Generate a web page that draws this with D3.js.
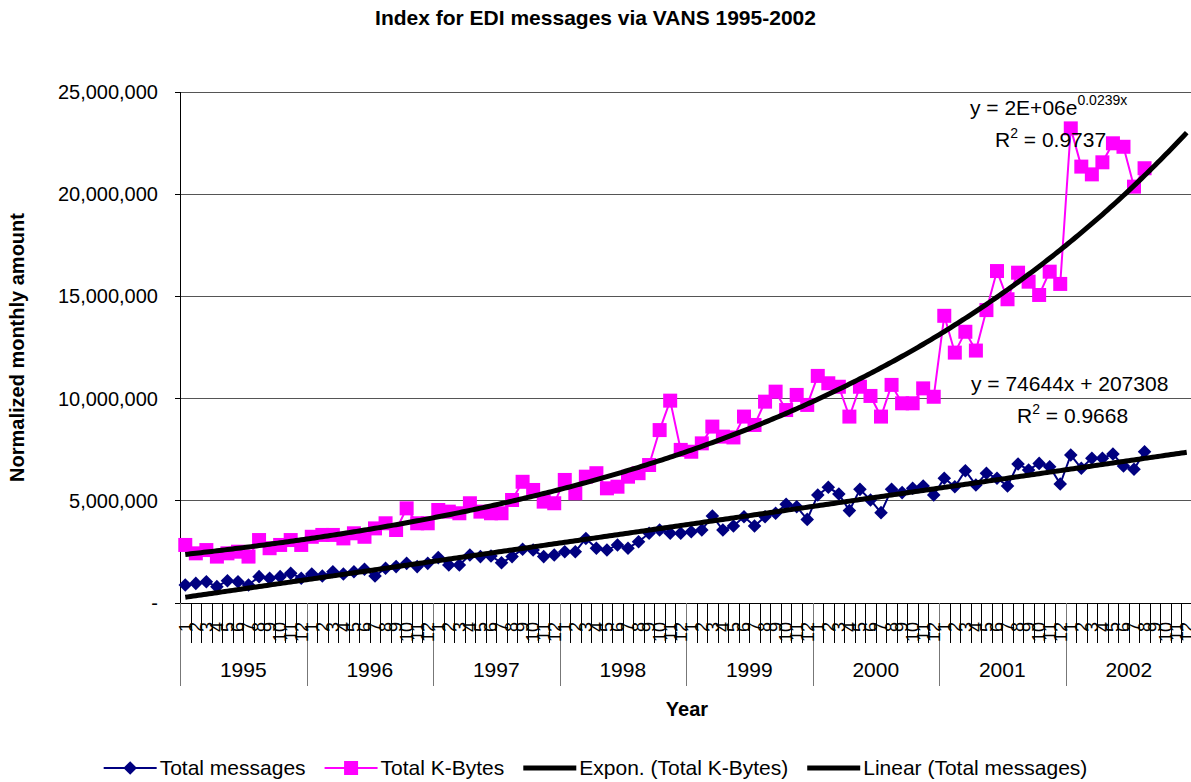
<!DOCTYPE html>
<html>
<head>
<meta charset="utf-8">
<style>
  body { margin: 0; background: #fff; }
  svg text { font-family: Arial, "Liberation Sans", sans-serif; fill: #000; }
</style>
</head>
<body>
<svg id="chart" width="1191" height="782"></svg>
<script src="https://cdnjs.cloudflare.com/ajax/libs/d3/7.8.5/d3.min.js"></script>
<script>
// ---- data ----
const years = ["1995", "1996", "1997", "1998", "1999", "2000", "2001", "2002"];
const monthLabels = ["1", "2", "3", "4", "5", "6", "7", "8", "9", "10", "11", "12"];

const totalMessages = [
  880000, 960000, 1040000, 800000, 1090000, 1040000, 880000, 1290000, 1210000, 1290000, 1450000, 1210000,
  1420000, 1320000, 1530000, 1420000, 1530000, 1650000, 1320000, 1700000, 1780000, 1940000, 1780000, 1940000,
  2220000, 1860000, 1860000, 2350000, 2270000, 2300000, 1970000, 2270000, 2630000, 2590000, 2270000, 2350000,
  2510000, 2510000, 3160000, 2680000, 2590000, 2840000, 2680000, 3000000, 3410000, 3570000, 3410000, 3410000,
  3490000, 3570000, 4260000, 3570000, 3770000, 4220000, 3770000, 4220000, 4390000, 4830000, 4710000, 4090000,
  5280000, 5660000, 5330000, 4520000, 5560000, 5040000, 4420000, 5560000, 5400000, 5610000, 5720000, 5280000,
  6100000, 5690000, 6470000, 5770000, 6350000, 6100000, 5720000, 6800000, 6510000, 6830000, 6670000, 5820000,
  7240000, 6590000, 7080000, 7080000, 7290000, 6700000, 6540000, 7400000
];

const totalKBytes = [
  2840000, 2430000, 2590000, 2270000, 2430000, 2510000, 2270000, 3080000, 2680000, 2840000, 3080000, 2840000,
  3240000, 3330000, 3330000, 3160000, 3410000, 3240000, 3650000, 3900000, 3570000, 4630000, 3900000, 3900000,
  4550000, 4470000, 4390000, 4880000, 4470000, 4390000, 4390000, 5040000, 5930000, 5530000, 4960000, 4880000,
  6020000, 5370000, 6180000, 6350000, 5610000, 5690000, 6180000, 6350000, 6750000, 8460000, 9900000, 7490000,
  7400000, 7810000, 8630000, 8140000, 8100000, 9120000, 8710000, 9850000, 10340000, 9440000, 10180000, 9690000,
  11110000, 10750000, 10580000, 9120000, 10580000, 10130000, 9120000, 10670000, 9770000, 9770000, 10500000, 10090000,
  14050000, 12250000, 13270000, 12350000, 14330000, 16240000, 14860000, 16160000, 15720000, 15070000, 16210000, 15610000,
  23220000, 21350000, 20970000, 21560000, 22490000, 22320000, 20370000, 21270000
];

const yTicks = [0, 5000000, 10000000, 15000000, 20000000, 25000000];

// Excel trendlines (x = month number, 1-based), forecast to month 96
const linSlope = 74644, linIntercept = 207308;
const expCoef = 2320000, expRate = 0.0239;
const trendEnd = 96;

const legendItems = ["Total messages", "Total K-Bytes", "Expon. (Total K-Bytes)", "Linear (Total messages)"];

// ---- layout ----
const width = 1191, height = 782;
const plot = { left: 180, right: 1192, top: 92, bottom: 603 };
const nCats = years.length * monthLabels.length;

const svg = d3.select("#chart");

const x = d3.scaleLinear().domain([0.5, nCats + 0.5]).range([plot.left, plot.right]);
const y = d3.scaleLinear().domain([0, 25000000]).range([plot.bottom, plot.top]);

// title
svg.append("text")
  .attr("x", width / 2).attr("y", 25)
  .attr("text-anchor", "middle")
  .style("font-size", "21px").style("font-weight", "bold")
  .text("Index for EDI messages via VANS 1995-2002");

// gridlines
svg.append("g")
  .selectAll("line")
  .data(yTicks.filter(d => d > 0))
  .join("line")
  .attr("x1", plot.left).attr("x2", plot.right)
  .attr("y1", d => y(d)).attr("y2", d => y(d))
  .attr("stroke", "#555").attr("stroke-width", 1)
  .attr("shape-rendering", "crispEdges");

// y axis: tick marks + labels
svg.append("g")
  .selectAll("line")
  .data(yTicks)
  .join("line")
  .attr("x1", plot.left - 5).attr("x2", plot.left)
  .attr("y1", d => y(d)).attr("y2", d => y(d))
  .attr("stroke", "#000").attr("shape-rendering", "crispEdges");

const fmt = d3.format(",");
svg.append("g")
  .selectAll("text")
  .data(yTicks)
  .join("text")
  .attr("x", 158)
  .attr("y", d => y(d))
  .attr("dy", "0.35em")
  .attr("text-anchor", "end")
  .style("font-size", "20px")
  .text(d => d === 0 ? "-" : fmt(d));

svg.append("line")
  .attr("x1", plot.left).attr("x2", plot.left)
  .attr("y1", plot.top).attr("y2", 686)
  .attr("stroke", "#000").attr("shape-rendering", "crispEdges");

svg.append("text")
  .attr("transform", `translate(24,${(plot.top + plot.bottom) / 2}) rotate(-90)`)
  .attr("text-anchor", "middle")
  .style("font-size", "20px").style("font-weight", "bold")
  .text("Normalized monthly amount");

// x axis: two-level category axis (months inside years)
svg.append("line")
  .attr("x1", plot.left).attr("x2", plot.right)
  .attr("y1", plot.bottom).attr("y2", plot.bottom)
  .attr("stroke", "#000").attr("shape-rendering", "crispEdges");

const categories = years.flatMap(yr => monthLabels.map(m => ({ year: yr, month: m })));

svg.append("g")
  .selectAll("line")
  .data(d3.range(nCats + 1))
  .join("line")
  .attr("x1", i => Math.round(x(i + 0.5)) + 0.5)
  .attr("x2", i => Math.round(x(i + 0.5)) + 0.5)
  .attr("y1", plot.bottom)
  .attr("y2", i => i % 12 === 0 ? 686 : 643)
  .attr("stroke", i => i % 12 === 0 ? "#777" : "#000");

svg.append("g")
  .selectAll("text")
  .data(categories)
  .join("text")
  .attr("transform", (d, i) => `translate(${x(i + 1)},622) rotate(-90)`)
  .attr("text-anchor", "end")
  .attr("dy", "0.35em")
  .style("font-size", "18px")
  .text(d => d.month);

svg.append("g")
  .selectAll("text")
  .data(years)
  .join("text")
  .attr("x", (d, i) => x(i * 12 + 6.5))
  .attr("y", 677)
  .attr("text-anchor", "middle")
  .style("font-size", "21px")
  .text(d => d);

svg.append("text")
  .attr("x", 687).attr("y", 716)
  .attr("text-anchor", "middle")
  .style("font-size", "20px").style("font-weight", "bold")
  .text("Year");

// series
const line = d3.line().x((d, i) => x(i + 1)).y(d => y(d));

svg.append("path")
  .datum(totalMessages)
  .attr("d", line)
  .attr("fill", "none").attr("stroke", "#000080").attr("stroke-width", 2);

const diamond = d3.symbol().type(d3.symbolSquare).size(92);
svg.append("g")
  .selectAll("path")
  .data(totalMessages)
  .join("path")
  .attr("d", diamond)
  .attr("transform", (d, i) => `translate(${x(i + 1)},${y(d)}) rotate(45)`)
  .attr("fill", "#000080");

svg.append("path")
  .datum(totalKBytes)
  .attr("d", line)
  .attr("fill", "none").attr("stroke", "#FF00FF").attr("stroke-width", 2);

const square = d3.symbol().type(d3.symbolSquare).size(196);
svg.append("g")
  .selectAll("path")
  .data(totalKBytes)
  .join("path")
  .attr("d", square)
  .attr("transform", (d, i) => `translate(${x(i + 1)},${y(d)})`)
  .attr("fill", "#FF00FF");

// trendlines
const trendX = d3.range(1, trendEnd + 0.01, 0.25);
const trendLine = f => d3.line().x(t => x(t)).y(t => y(f(t)))(trendX);

svg.append("path")
  .attr("d", trendLine(t => expCoef * Math.exp(expRate * t)))
  .attr("fill", "none").attr("stroke", "#000").attr("stroke-width", 5);

svg.append("path")
  .attr("d", trendLine(t => linIntercept + linSlope * t))
  .attr("fill", "none").attr("stroke", "#000").attr("stroke-width", 5);

// trendline equations
const eq1 = svg.append("text").attr("x", 970).attr("y", 115).style("font-size", "21px");
eq1.append("tspan").text("y = 2E+06e");
eq1.append("tspan").attr("dy", -10).style("font-size", "14px").text("0.0239x");

const r1 = svg.append("text").attr("x", 995).attr("y", 147).style("font-size", "21px");
r1.append("tspan").text("R");
r1.append("tspan").attr("dy", -9).style("font-size", "14px").text("2");
r1.append("tspan").attr("dy", 9).text(" = 0.9737");

svg.append("text").attr("x", 971).attr("y", 391).style("font-size", "21px")
  .text("y = 74644x + 207308");

const r2 = svg.append("text").attr("x", 1017).attr("y", 423).style("font-size", "21px");
r2.append("tspan").text("R");
r2.append("tspan").attr("dy", -9).style("font-size", "14px").text("2");
r2.append("tspan").attr("dy", 9).text(" = 0.9668");

// legend
const legend = svg.append("g");
let lx = 0;
legendItems.forEach((name, i) => {
  const g = legend.append("g").attr("transform", `translate(${lx},0)`);
  const color = i === 0 ? "#000080" : i === 1 ? "#FF00FF" : "#000";
  g.append("line")
    .attr("x1", 0).attr("x2", 53).attr("y1", 0).attr("y2", 0)
    .attr("stroke", color).attr("stroke-width", i < 2 ? 2 : 5);
  if (i === 0) g.append("path").attr("d", diamond).attr("transform", "translate(26.5,0) rotate(45)").attr("fill", color);
  if (i === 1) g.append("path").attr("d", square).attr("transform", "translate(26.5,0)").attr("fill", color);
  const t = g.append("text").attr("x", 56).attr("y", 7).style("font-size", "21px").text(name);
  lx += 56 + t.node().getComputedTextLength() + 19;
});
const legendW = lx - 19;
legend.attr("transform", `translate(${(width - legendW) / 2},768)`);
</script>
</body>
</html>
